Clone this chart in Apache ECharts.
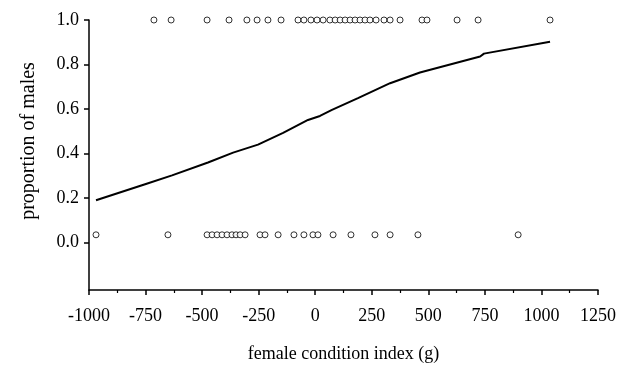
<!DOCTYPE html>
<html>
<head>
<meta charset="utf-8">
<script src="https://cdn.jsdelivr.net/npm/echarts@6/dist/echarts.min.js"></script>
<style>html,body{margin:0;padding:0;background:#fff}#c{width:640px;height:368px}</style>
</head>
<body>
<div id="c"></div>
<script>
// female condition index (g) of females that produced males (proportion = 1)
const maleX = [-713, -637, -478, -381, -302, -257, -209, -151, -76, -50, -19, 8, 35, 65, 88, 110, 132, 154, 176, 198, 220, 242, 269, 304, 331, 375, 472, 494, 627, 720, 1038];
// females that produced females (proportion = 0, drawn slightly above 0)
const femaleX = [-969, -651, -478, -456, -434, -412, -390, -368, -350, -332, -310, -244, -222, -164, -94, -50, -10, 12, 79, 158, 264, 331, 454, 897];
const maleY = 1.0;
const femaleY = 0.035;
// fitted logistic curve
const fitX = [-969, -752, -633, -474, -363, -253, -142, -32, 21, 74, 189, 331, 463, 729, 746, 1038];
const fitY = [0.19, 0.262, 0.302, 0.36, 0.404, 0.44, 0.493, 0.551, 0.569, 0.596, 0.649, 0.716, 0.764, 0.836, 0.849, 0.902];
const yTicks = [0, 0.2, 0.4, 0.6, 0.8, 1.0];
const xLabel = 'female condition index (g)';
const yLabel = 'proportion of males';

const font = 'Liberation Serif';
const chart = echarts.init(document.getElementById('c'));
chart.setOption({
  animation: false,
  backgroundColor: '#fff',
  grid: {left: 89, right: 42, top: 20, bottom: 75},
  xAxis: {
    type: 'value', min: -1000, max: 1250, interval: 250,
    name: xLabel, nameLocation: 'middle', nameGap: 55,
    nameTextStyle: {fontFamily: font, fontSize: 18, color: '#000'},
    axisLine: {show: true, onZero: false, lineStyle: {color: '#000', width: 1.5}},
    axisTick: {show: true, length: 5, lineStyle: {color: '#000', width: 1.5}},
    minorTick: {show: true, splitNumber: 2, length: 3, lineStyle: {color: '#000', width: 1.2}},
    splitLine: {show: false},
    axisLabel: {fontFamily: font, fontSize: 18, color: '#000', margin: 17, formatter: v => String(v)}
  },
  yAxis: {
    type: 'value', min: -0.213, max: 1.0,
    name: yLabel, nameLocation: 'middle', nameGap: 50, nameRotate: 90,
    nameTextStyle: {fontFamily: font, fontSize: 20, color: '#000', padding: [0, 0, 0, 28]},
    axisLine: {show: true, onZero: false, lineStyle: {color: '#000', width: 1.5}},
    axisTick: {show: true, length: 5, customValues: yTicks, lineStyle: {color: '#000', width: 1.5}},
    splitLine: {show: false},
    axisLabel: {fontFamily: font, fontSize: 18, color: '#000', margin: 10,
      customValues: yTicks, formatter: v => v.toFixed(1)}
  },
  series: [
    {type: 'line', data: fitX.map((x, i) => [x, fitY[i]]), showSymbol: false,
     lineStyle: {color: '#000', width: 2}, z: 1},
    {type: 'scatter', data: maleX.map(x => [x, maleY]), symbol: 'circle', symbolSize: 6,
     itemStyle: {color: '#fff', borderColor: '#000', borderWidth: 1}, z: 2},
    {type: 'scatter', data: femaleX.map(x => [x, femaleY]), symbol: 'circle', symbolSize: 6,
     itemStyle: {color: '#fff', borderColor: '#000', borderWidth: 1}, z: 2}
  ]
});
</script>
</body>
</html>
